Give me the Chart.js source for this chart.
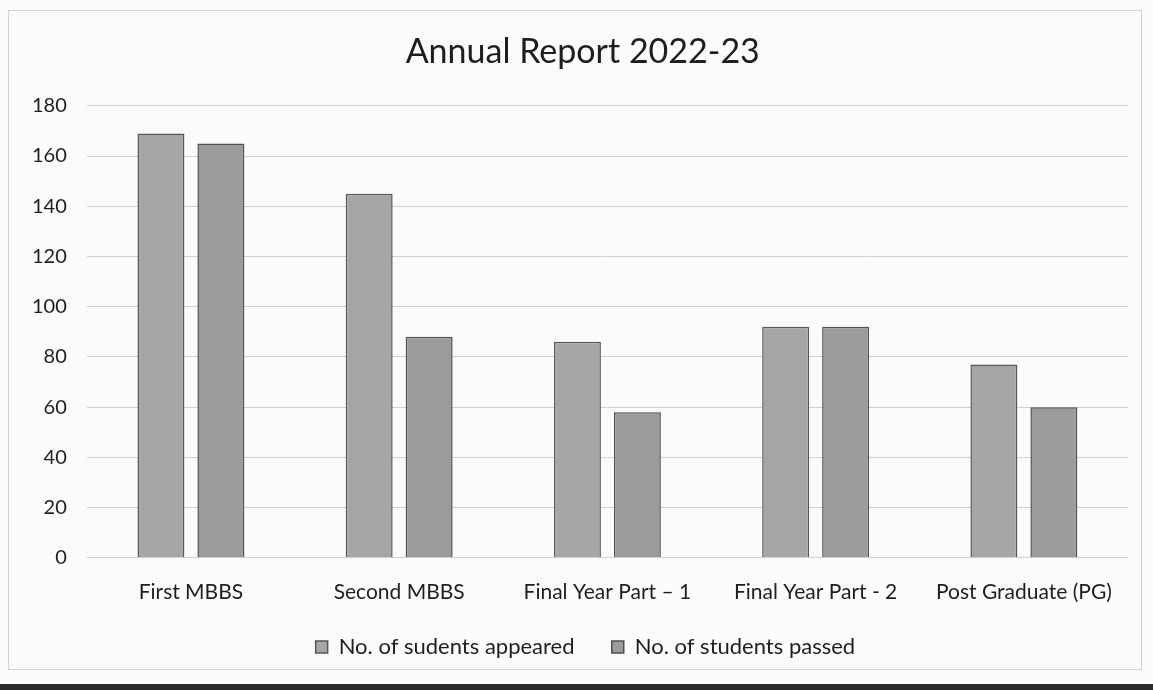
<!DOCTYPE html>
<html>
<head>
<meta charset="utf-8">
<script src="https://cdn.jsdelivr.net/npm/chart.js@4/dist/chart.umd.min.js"></script>
<style>
    html, body { margin: 0; padding: 0; background: #fbfbfb; }
    #frame { position: absolute; left: 8px; top: 10px; width: 1132px; height: 658px; border: 1px solid #d2d2d2; }
    #wrap { position: absolute; left: 0; top: 0; width: 1153px; height: 690px; }
    #bottom-line { position: absolute; left: 0; top: 684px; width: 1153px; height: 6px; background: #2a2a2a; }
</style>
</head>
<body>
<div id="frame"></div>
<div id="wrap"><canvas id="reportChart"></canvas></div>
<div id="bottom-line"></div>
<script>
// --- datos ---
const categories = ['First MBBS', 'Second MBBS', 'Final Year Part \u2013 1', 'Final Year Part - 2', 'Post Graduate (PG)'];
const appeared = [169, 145, 86, 92, 77];
const passed = [165, 88, 58, 92, 60];
const yTicks = [0, 20, 40, 60, 80, 100, 120, 140, 160, 180];

const FONT = 'Lato, "Open Sans", sans-serif';

const ctx = document.getElementById('reportChart').getContext('2d');
new Chart(ctx, {
    type: 'bar',
    data: {
        labels: categories,
        datasets: [
            {
                label: 'No. of sudents appeared',
                data: appeared,
                backgroundColor: '#a6a6a8',
                borderColor: '#575757',
                borderWidth: 1.5
            },
            {
                label: 'No. of students passed',
                data: passed,
                backgroundColor: '#9b9b9d',
                borderColor: '#505050',
                borderWidth: 1.5
            }
        ]
    },
    options: {
        responsive: true,
        maintainAspectRatio: false,
        animation: false,
        categoryPercentage: 0.576,
        barPercentage: 0.783,
        layout: { padding: { top: 32, right: 25, bottom: 22, left: 12 } },
        plugins: {
            title: {
                display: true,
                // espacio inicial: el título del original está algo desplazado a la derecha
                text: '\u2003Annual Report 2022-23',
                color: '#1e1e1e',
                font: { family: FONT, size: 34, weight: 'normal' },
                padding: { top: 0, bottom: 33 }
            },
            legend: {
                position: 'bottom',
                fullSize: false,
                labels: {
                    color: '#1e1e1e',
                    font: { family: FONT, size: 22 },
                    boxWidth: 12,
                    boxHeight: 12,
                    padding: 18,
                    // hueco más ancho entre las dos entradas y leyenda algo a la izquierda del área
                    generateLabels: (chart) => {
                        const items = Chart.defaults.plugins.legend.labels.generateLabels(chart);
                        if (items[0]) items[0].text += '\u2003\u2009';
                        if (items[1]) items[1].text += '\u2003\u2003\u2002';
                        return items;
                    }
                }
            },
            tooltip: { enabled: false }
        },
        scales: {
            x: {
                grid: { display: false },
                border: { display: false },
                ticks: {
                    color: '#1e1e1e',
                    font: { family: FONT, size: 21 },
                    padding: 13.5,
                    maxRotation: 0
                }
            },
            y: {
                min: 0,
                max: yTicks[yTicks.length - 1],
                afterBuildTicks: (axis) => { axis.ticks = yTicks.map(v => ({ value: v })); },
                grid: { color: '#d0d0d0', drawTicks: false },
                border: { display: false },
                ticks: {
                    color: '#1e1e1e',
                    font: { family: FONT, size: 20 },
                    padding: 20
                }
            }
        }
    }
});
</script>
</body>
</html>
